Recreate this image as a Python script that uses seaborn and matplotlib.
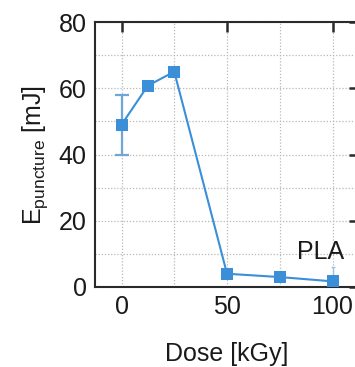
import matplotlib
matplotlib.use("Agg")
import matplotlib.pyplot as plt
from matplotlib.ticker import MultipleLocator
import seaborn as sns
import pandas as pd

# Puncture energy vs. irradiation dose for PLA
dose = [0, 12.5, 25, 50, 75, 100]
energy = [49.0, 60.8, 65.0, 4.0, 3.0, 1.7]
energy_err = [9.0, 0.0, 0.0, 0.0, 0.0, 4.3]

x_ticks = [0, 50, 100]
y_ticks = [0, 20, 40, 60, 80]
x_label = "Dose [kGy]"
y_label = r"E$_{\mathrm{puncture}}$ [mJ]"
annotation = "PLA"

sns.set_theme(style="white")
plt.rcParams["font.family"] = ["Liberation Sans", "DejaVu Sans"]
plt.rcParams["mathtext.fontset"] = "custom"
plt.rcParams["mathtext.rm"] = "Liberation Sans"
plt.rcParams["mathtext.it"] = "Liberation Sans:italic"
plt.rcParams["mathtext.bf"] = "Liberation Sans:bold"

blue = "#3a8fd8"
dark = "#2a2a2a"

fig = plt.figure(figsize=(3.55, 3.67), dpi=100)
ax = fig.add_axes([0.268, 0.218, 0.743, 0.722])

df = pd.DataFrame({"dose": dose, "energy": energy, "err": energy_err})

# wide caps for the large error bar, tiny ones for the small
big = df[df["err"] > 5]
small = df[(df["err"] > 0) & (df["err"] <= 5)]
ax.errorbar(big["dose"], big["energy"], yerr=big["err"], fmt="none",
            ecolor="#6fa6d8", elinewidth=1.6, capsize=5, capthick=1.6, zorder=2)
ax.errorbar(small["dose"], small["energy"], yerr=small["err"], fmt="none",
            ecolor="#9cc3e6", elinewidth=1.0, capsize=1.5, capthick=1.0, zorder=2)

sns.lineplot(data=df, x="dose", y="energy", ax=ax, color=blue, lw=1.5,
             marker="s", markersize=8, markeredgewidth=0, zorder=3)

ax.set_xlim(-12.5, 112.5)
ax.set_ylim(0, 80)
ax.set_xticks(x_ticks)
ax.set_yticks(y_ticks)
ax.xaxis.set_minor_locator(MultipleLocator(25))
ax.yaxis.set_minor_locator(MultipleLocator(10))

ax.grid(True, which="both", color="#b8b8b8", linestyle=(0, (1, 1.5)), linewidth=0.9)
ax.set_axisbelow(True)

for side in ["left", "top", "bottom", "right"]:
    ax.spines[side].set_color(dark)
    ax.spines[side].set_linewidth(1.5)

ax.tick_params(which="major", direction="in", length=7, width=1.8, color=dark,
               top=True, right=True, labelsize=18, labelcolor="#1a1a1a", pad=6)
ax.tick_params(which="minor", length=0)

ax.set_xlabel(x_label, fontsize=18, color="#1a1a1a", labelpad=16)
ax.set_ylabel(y_label, fontsize=18, color="#1a1a1a", labelpad=6)

ax.text(94.2, 10.6, annotation, fontsize=18, color="#1a1a1a",
        ha="center", va="center", zorder=4)

fig.savefig("out.png", dpi=100)
